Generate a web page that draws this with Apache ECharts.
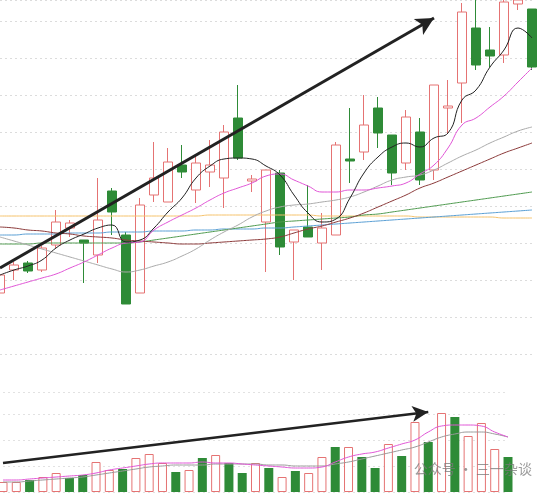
<!DOCTYPE html>
<html>
<head>
<meta charset="utf-8">
<script src="https://cdn.jsdelivr.net/npm/echarts@6/dist/echarts.min.js"></script>
<style>html,body{margin:0;padding:0;background:#fff}#main{width:554px;height:496px}</style>
</head>
<body>
<div id="main"></div>
<script>
// candles: [open, close, low, high]
var candles = [
  [7,25,5,27],[30,35,20,38],[37,29,27,39],[30,52,28,54],[55,78,52,90],
  [72,77,63,80],[60,57,17,60],[45,80,37,122],[109,88,65,112],[65,-4,-4,68],
  [7,95,7,102],[105,122,98,158],[98,138,98,152],[135,128,122,155],[110,137,97,145],
  [128,135,113,160],[122,168,92,175],[182,142,140,215],[119,121,108,125],[78,130,28,130],
  [127,53,45,130],[58,70,20,70],[73,63,63,115],[57,72,30,87],[65,155,65,158],
  [141,139,117,192],[148,175,140,205],[192,167,152,203],[165,127,115,165],[137,183,130,190],
  [168,120,115,182],[130,215,120,215],[192,194,167,220],[217,288,177,297],[272,235,230,300],
  [250,244,233,273],[245,298,237,300],[296,300,290,302],[291,233,230,291]
];
var ma5 = [25,30,34,40,52,60,66,72,75,58,60,72,88,102,122,134,141,142,141,134,125,105,87,78,81,102,127,143,153,157,153,162,167,200,210,233,250,272,262];
var ma10 = [10,14,18,22,26,32,38,45,52,57,58,70,78,85,92,100,107,112,117,124,126,120,114,108,108,110,110,112,114,117,126,135,152,175,182,193,204,218,232];
var ma20 = [63,59,55,51,47,43,39,35,31,28,30,34,38,44,51,60,68,75,83,89,93,95,96,98,100,103,108,114,120,123,125,130,137,144,150,157,163,169,173];
var ma30 = [73,72,70,69,67,66,64,63,62,60,59,58,57,56,56,57,58,59,60,61,63,67,71,74,78,82,87,93,99,105,112,117,123,129,135,141,147,152,157];
var ma60 = [56,56,56,57,57,57,57,57,57,57,58,60,62,64,66,68,70,72,74,76,78,79,80,81,82,83,85,86,88,90,92,94,96,98,100,102,104,106,108];
var ma120 = [65,65,66,66,66,67,67,67,68,68,68,69,69,69,70,70,71,71,71,72,72,73,74,75,76,77,78,79,80,81,82,83,84,85,86,87,88,89,90];
var ma250 = [84,84,84,84,84,84,84,84,84,84,84,84,84,84,84,85,85,85,85,85,85,85,85,84,84,84,84,84,84,84,83,83,83,83,83,83,82,82,82];
var volumes = [10,10,12,15,19,14,17,30,22,23,34,38,29,20,22,34,37,29,19,29,24,15,21,19,35,45,45,35,24,48,36,70,50,79,75,56,69,43,35];
var volUp = 'rrgrrggrrgrrrgrgrggrgrgrrgrggrgrgrgrrrg';
var volMa5 = [12,12,13,14,15,16,17,19,22,24,26,28,29,29,29,30,29,29,28,27,26,25,24,24,25,30,35,38,40,44,48,52,60,66,67,67,66,60,55];
var volMa10 = [10,10,11,12,13,14,15,17,19,21,23,25,26,27,27,27,28,28,28,28,27,27,26,26,26,28,30,33,36,39,42,45,50,55,58,60,60,58,55];

var UP = '#e57373', DOWN = '#2e8b37';
var cats = candles.map(function (d, i) { return i; });

function line(name, data, color, width) {
  return { name: name, type: 'line', data: data, symbol: 'none', smooth: true,
    lineStyle: { color: color, width: width || 1 }, xAxisIndex: 0, yAxisIndex: 0, z: 3 };
}
function vline(data, color) {
  return { type: 'line', data: data, symbol: 'none', smooth: true,
    lineStyle: { color: color, width: 1 }, xAxisIndex: 1, yAxisIndex: 1, z: 3 };
}

var myChart = echarts.init(document.getElementById('main'));
var option = {
  animation: false,
  grid: [
    { left: 0, right: 22, top: 0, height: 354 },
    { left: 3, right: 46, top: 392, height: 100 }
  ],
  xAxis: [
    { type: 'category', data: cats, gridIndex: 0, show: false, boundaryGap: false },
    { type: 'category', data: cats, gridIndex: 1, show: false, boundaryGap: false }
  ],
  yAxis: [
    { type: 'value', gridIndex: 0, min: -54, max: 300, interval: 37,
      axisLine: { show: false }, axisLabel: { show: false }, axisTick: { show: false },
      splitLine: { lineStyle: { color: '#dcdcdc', type: [2, 3] } } },
    { type: 'value', gridIndex: 1, min: 0, max: 100, interval: 26,
      axisLine: { show: false }, axisLabel: { show: false }, axisTick: { show: false },
      splitLine: { lineStyle: { color: '#e2e2e2', type: [2, 3] } } }
  ],
  series: [
    { type: 'candlestick', data: candles, barWidth: 9, z: 2,
      itemStyle: { color: '#fff', color0: DOWN, borderColor: UP, borderColor0: DOWN, borderWidth: 1 },
      markLine: { silent: true, symbol: ['none', 'arrow'], symbolSize: [14, 18], label: { show: false },
        lineStyle: { color: '#222', width: 3, type: 'solid' },
        data: [[{ coord: [0, 32] }, { coord: [31, 282] }]] } },
    line('MA250', ma250, '#f5c26b'),
    line('MA120', ma120, '#5a9fd4'),
    line('MA60', ma60, '#4f9a4f'),
    line('MA30', ma30, '#8b3a3a'),
    line('MA20', ma20, '#aaaaaa'),
    line('MA10', ma10, '#e055d6'),
    line('MA5', ma5, '#222222'),
    { type: 'bar', xAxisIndex: 1, yAxisIndex: 1, barWidth: 9,
      data: volumes.map(function (v, i) {
        var up = volUp[i] === 'r';
        return { value: v, itemStyle: up ? { color: '#fff', borderColor: UP, borderWidth: 1 } : { color: DOWN } };
      }),
      markLine: { silent: true, symbol: ['none', 'arrow'], symbolSize: [12, 16], label: { show: false },
        lineStyle: { color: '#222', width: 2.5, type: 'solid' },
        data: [[{ coord: [0, 29] }, { coord: [32, 80] }]] } },
    vline(volMa10, '#999999'),
    vline(volMa5, '#e055d6')
  ],
  graphic: [
    { type: 'text', right: 22, top: 462, z: 10,
      style: { text: '公众号 · 三一杂谈', fill: 'rgba(120,120,120,0.75)', font: '14px "Noto Sans CJK SC"' } }
  ]
};
myChart.setOption(option, true);
</script>
</body>
</html>
